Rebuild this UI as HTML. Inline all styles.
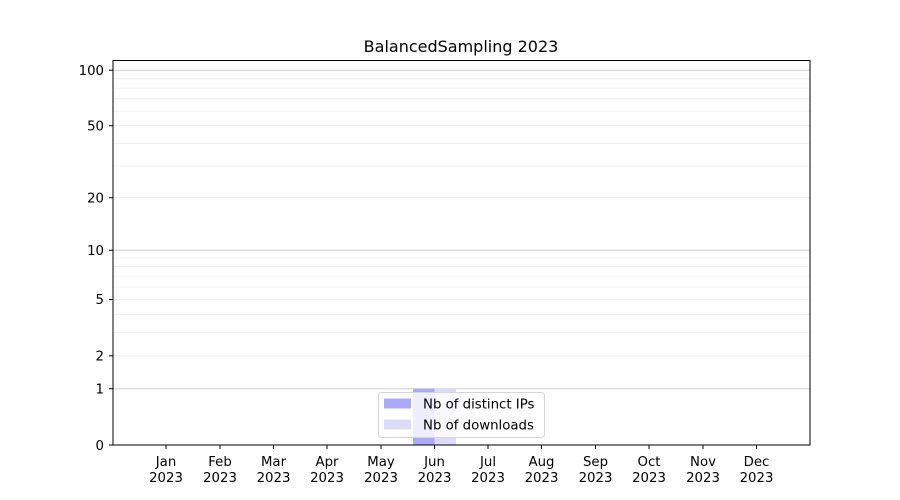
<!DOCTYPE html>
<html><head><meta charset="utf-8"><style>
body{margin:0;background:#fff;}
svg{display:block;font-family:"DejaVu Sans","Liberation Sans",sans-serif;}
</style></head><body>
<svg width="900" height="500" viewBox="0 0 900 500" xmlns="http://www.w3.org/2000/svg">
<rect width="900" height="500" fill="#fff"/>
<g stroke="#ebebeb" stroke-width="0.8">
<line x1="113" x2="810" y1="355.8" y2="355.8"/>
<line x1="113" x2="810" y1="332.4" y2="332.4"/>
<line x1="113" x2="810" y1="314.3" y2="314.3"/>
<line x1="113" x2="810" y1="299.5" y2="299.5"/>
<line x1="113" x2="810" y1="287.0" y2="287.0"/>
<line x1="113" x2="810" y1="276.1" y2="276.1"/>
<line x1="113" x2="810" y1="266.6" y2="266.6"/>
<line x1="113" x2="810" y1="258.0" y2="258.0"/>
<line x1="113" x2="810" y1="197.7" y2="197.7"/>
<line x1="113" x2="810" y1="166.1" y2="166.1"/>
<line x1="113" x2="810" y1="143.4" y2="143.4"/>
<line x1="113" x2="810" y1="125.7" y2="125.7"/>
<line x1="113" x2="810" y1="111.1" y2="111.1"/>
<line x1="113" x2="810" y1="98.8" y2="98.8"/>
<line x1="113" x2="810" y1="88.1" y2="88.1"/>
<line x1="113" x2="810" y1="78.7" y2="78.7"/>
</g>
<g stroke="#cfcfcf" stroke-width="1">
<line x1="113" x2="810" y1="388.7" y2="388.7"/>
<line x1="113" x2="810" y1="250.3" y2="250.3"/>
<line x1="113" x2="810" y1="70.2" y2="70.2"/>
</g>
<rect x="413" y="388.7" width="21.5" height="56.3" fill="#aaaaf8"/>
<rect x="434.5" y="388.7" width="21.5" height="56.3" fill="#dcdcf9"/>
<g stroke="#000" stroke-width="1" fill="none">
<rect x="113" y="60.5" width="697" height="384.5"/>
</g>
<g stroke="#000" stroke-width="1">
<line x1="109" x2="113" y1="445" y2="445"/>
<line x1="109" x2="113" y1="388.7" y2="388.7"/>
<line x1="109" x2="113" y1="355.8" y2="355.8"/>
<line x1="109" x2="113" y1="299.5" y2="299.5"/>
<line x1="109" x2="113" y1="250.3" y2="250.3"/>
<line x1="109" x2="113" y1="197.7" y2="197.7"/>
<line x1="109" x2="113" y1="125.7" y2="125.7"/>
<line x1="109" x2="113" y1="70.2" y2="70.2"/>
<line x1="166" x2="166" y1="445" y2="449"/>
<line x1="220" x2="220" y1="445" y2="449"/>
<line x1="273.5" x2="273.5" y1="445" y2="449"/>
<line x1="327" x2="327" y1="445" y2="449"/>
<line x1="381" x2="381" y1="445" y2="449"/>
<line x1="434.5" x2="434.5" y1="445" y2="449"/>
<line x1="488" x2="488" y1="445" y2="449"/>
<line x1="541.5" x2="541.5" y1="445" y2="449"/>
<line x1="595.5" x2="595.5" y1="445" y2="449"/>
<line x1="649" x2="649" y1="445" y2="449"/>
<line x1="703" x2="703" y1="445" y2="449"/>
<line x1="756.5" x2="756.5" y1="445" y2="449"/>
</g>
<g font-size="13.3" fill="#000" text-anchor="end">
<text x="104" y="450">0</text>
<text x="104" y="393.5">1</text>
<text x="104" y="360.5">2</text>
<text x="104" y="304">5</text>
<text x="104" y="255">10</text>
<text x="104" y="202.5">20</text>
<text x="104" y="130.5">50</text>
<text x="104" y="75">100</text>
</g>
<g font-size="13.3" fill="#000" text-anchor="middle">
<text x="166" y="466">Jan</text><text x="166" y="482">2023</text>
<text x="220" y="466">Feb</text><text x="220" y="482">2023</text>
<text x="273.5" y="466">Mar</text><text x="273.5" y="482">2023</text>
<text x="327" y="466">Apr</text><text x="327" y="482">2023</text>
<text x="381" y="466">May</text><text x="381" y="482">2023</text>
<text x="434.5" y="466">Jun</text><text x="434.5" y="482">2023</text>
<text x="488" y="466">Jul</text><text x="488" y="482">2023</text>
<text x="541.5" y="466">Aug</text><text x="541.5" y="482">2023</text>
<text x="595.5" y="466">Sep</text><text x="595.5" y="482">2023</text>
<text x="649" y="466">Oct</text><text x="649" y="482">2023</text>
<text x="703" y="466">Nov</text><text x="703" y="482">2023</text>
<text x="756.5" y="466">Dec</text><text x="756.5" y="482">2023</text>
</g>
<text x="461" y="52" font-size="16" text-anchor="middle" fill="#000">BalancedSampling 2023</text>
<rect x="378.5" y="392.5" width="166" height="45" rx="3" fill="#fff" fill-opacity="0.8" stroke="#d6d6d6"/>
<rect x="384" y="398.5" width="27" height="10" fill="#aaaaf8"/>
<rect x="384" y="419.5" width="27" height="10" fill="#dcdcf9"/>
<g font-size="13.3" fill="#000">
<text x="423" y="408.5">Nb of distinct IPs</text>
<text x="423" y="429.5">Nb of downloads</text>
</g>
</svg>
</body></html>
